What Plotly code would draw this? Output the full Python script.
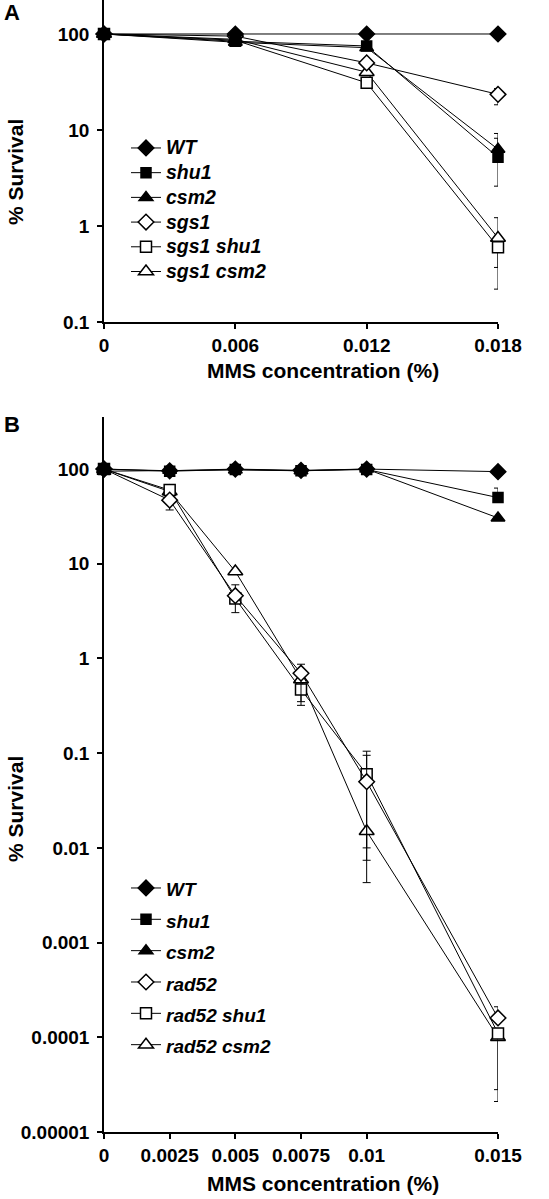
import plotly.graph_objects as go

# ---------------- data ----------------
x_A = [0, 0.006, 0.012, 0.018]
x_A_ticks = ["0", "0.006", "0.012", "0.018"]
names_A = ["WT", "shu1", "csm2", "sgs1", "sgs1 shu1", "sgs1 csm2"]
wt_A = [100, 100, 100, 100]
shu1_A = [100, 84, 75, 5.2]
csm2_A = [100, 82, 72, 6.3]
sgs1_A = [100, 95, 50, 23.5]
sgs1_shu1_A = [100, 86, 31, 0.6]
sgs1_csm2_A = [100, 88, 40, 0.75]
hi_A = [
    [None, None, None, None],
    [None, None, None, 8.2],
    [None, None, None, 9.2],
    [None, None, None, 27],
    [None, None, None, None],
    [None, None, None, 1.22],
]
lo_A = [
    [None, None, None, None],
    [None, None, None, 2.6],
    [None, None, None, None],
    [None, None, None, 18.3],
    [None, None, None, 0.37],
    [None, None, None, 0.22],
]

x_B = [0, 0.0025, 0.005, 0.0075, 0.01, 0.015]
x_B_ticks = ["0", "0.0025", "0.005", "0.0075", "0.01", "0.015"]
names_B = ["WT", "shu1", "csm2", "rad52", "rad52 shu1", "rad52 csm2"]
wt_B = [100, 96, 100, 97, 100, 94]
shu1_B = [100, 95, 99, 96, 99, 50]
csm2_B = [95, 97, 98, 96, 100, 30.5]
rad52_B = [100, 47, 4.6, 0.70, 0.050, 0.00016]
rad52_shu1_B = [100, 60, 4.3, 0.47, 0.060, 0.00011]
rad52_csm2_B = [100, 58, 8.3, 0.60, 0.015, 0.0001]
hi_B = [
    [None] * 6,
    [None, None, None, None, None, 63],
    [None] * 6,
    [None, None, 6.0, 0.87, 0.095, 0.00021],
    [None, None, None, None, 0.105, None],
    [None] * 6,
]
lo_B = [
    [None] * 6,
    [None] * 6,
    [None] * 6,
    [None, 37, 3.05, 0.35, 0.0074, None],
    [None, None, 3.9, 0.32, 0.010, 0.000028],
    [None, None, None, None, 0.0043, 0.000021],
]

y_ticks_A = [0.1, 1, 10, 100]
y_ticks_A_text = ["0.1", "1", "10", "100"]
y_ticks_B = [0.00001, 0.0001, 0.001, 0.01, 0.1, 1, 10, 100]
y_ticks_B_text = ["0.00001", "0.0001", "0.001", "0.01", "0.1", "1", "10", "100"]

# ---------------- styles ----------------
FONT = "Liberation Sans, Arial, Helvetica, sans-serif"
symbols = ["diamond", "square", "triangle-up", "diamond", "square", "triangle-up"]
fills = ["black", "black", "black", "white", "white", "white"]
sizes = [12, 10, 12, 12, 11, 13]
# drawing order: open-marker series underneath, filled series on top
draw_order = [5, 4, 3, 0, 2, 1]

W, H = 549, 1199
L, R = 104, 51
PW = W - L - R


def errs(vals, hi, lo):
    plus = [(h - v) if h is not None else 0 for v, h in zip(vals, hi)]
    minus = [(v - l) if l is not None else 0 for v, l in zip(vals, lo)]
    return plus, minus


fig = go.Figure()


def add_panel(names, series, his, los, xs, xa, ya, leg, fsize):
    for i in draw_order:
        vals = series[i]
        plus, minus = errs(vals, his[i], los[i])
        fig.add_trace(go.Scatter(
            x=xs, y=vals, mode="lines+markers",
            name='<span style="font-size:%spx">%s</span>' % (fsize, names[i]),
            legendrank=i + 1,
            line=dict(color="black", width=1),
            marker=dict(symbol=symbols[i], size=sizes[i], color=fills[i],
                        line=dict(color="black", width=1.5)),
            error_y=dict(type="data", array=plus, arrayminus=minus, symmetric=False,
                         color="black", thickness=1, width=4),
            cliponaxis=False, xaxis=xa, yaxis=ya, legend=leg,
        ))


add_panel(names_A, [wt_A, shu1_A, csm2_A, sgs1_A, sgs1_shu1_A, sgs1_csm2_A],
          hi_A, lo_A, x_A, "x", "y", "legend", 19.5)
add_panel(names_B, [wt_B, shu1_B, csm2_B, rad52_B, rad52_shu1_B, rad52_csm2_B],
          hi_B, lo_B, x_B, "x2", "y2", "legend2", 19)

axis_common = dict(
    showline=True, linecolor="black", linewidth=1.5, showgrid=False, zeroline=False,
    ticks="outside", ticklen=5, tickwidth=1.5, tickcolor="black",
    tickfont=dict(family=FONT, size=19, color="black", weight="bold"),
)

fig.update_layout(
    width=W, height=H,
    margin=dict(l=L, r=R, t=0, b=0, autoexpand=False),
    paper_bgcolor="white", plot_bgcolor="white",
    font=dict(family=FONT, color="black"),
    xaxis=dict(domain=[0, 1], range=[0, 0.018], tickvals=x_A, ticktext=x_A_ticks,
               anchor="y", **axis_common),
    yaxis=dict(domain=[1 - 322 / H, 1], type="log", range=[-1, 2.354],
               tickvals=y_ticks_A, ticktext=y_ticks_A_text, anchor="x",
               ticklabelstandoff=4, **axis_common),
    xaxis2=dict(domain=[0, 1], range=[0, 0.015], tickvals=x_B, ticktext=x_B_ticks,
                anchor="y2", **axis_common),
    yaxis2=dict(domain=[1 - 1132 / H, 1 - 417 / H], type="log", range=[-5, 2.55],
                tickvals=y_ticks_B, ticktext=y_ticks_B_text, anchor="x2",
                ticklabelstandoff=4, **axis_common),
    legend=dict(x=(126 - L) / PW, y=1 - 130.6 / H, xanchor="left", yanchor="top",
                bgcolor="rgba(0,0,0,0)", borderwidth=0, traceorder="normal",
                font=dict(family=FONT, size=16.7, color="black", weight="bold", style="italic")),
    legend2=dict(x=(126 - L) / PW, y=1 - 867.3 / H, xanchor="left", yanchor="top",
                 bgcolor="rgba(0,0,0,0)", borderwidth=0, traceorder="normal",
                 font=dict(family=FONT, size=21.8, color="black", weight="bold", style="italic")),
    showlegend=True,
)

title_font = dict(family=FONT, size=21, color="black", weight="bold")
panel_font = dict(family=FONT, size=22, color="black", weight="bold")
annots = [
    dict(text="A", x=(12 - L) / PW, y=1 - 12 / H, font=panel_font),
    dict(text="B", x=(12 - L) / PW, y=1 - 425 / H, font=panel_font),
    dict(text="% Survival", x=(15 - L) / PW, y=1 - 172 / H, textangle=-90, font=title_font),
    dict(text="% Survival", x=(15 - L) / PW, y=1 - 809 / H, textangle=-90, font=title_font),
    dict(text="MMS concentration (%)", x=(323 - L) / PW, y=1 - 370 / H, font=title_font),
    dict(text="MMS concentration (%)", x=(323 - L) / PW, y=1 - 1183 / H, font=title_font),
]
for a in annots:
    fig.add_annotation(xref="paper", yref="paper", showarrow=False,
                       xanchor="center", yanchor="middle", **a)

fig.write_html("out.html", config={"displayModeBar": False},
               post_script="document.body.style.margin='0px';")
